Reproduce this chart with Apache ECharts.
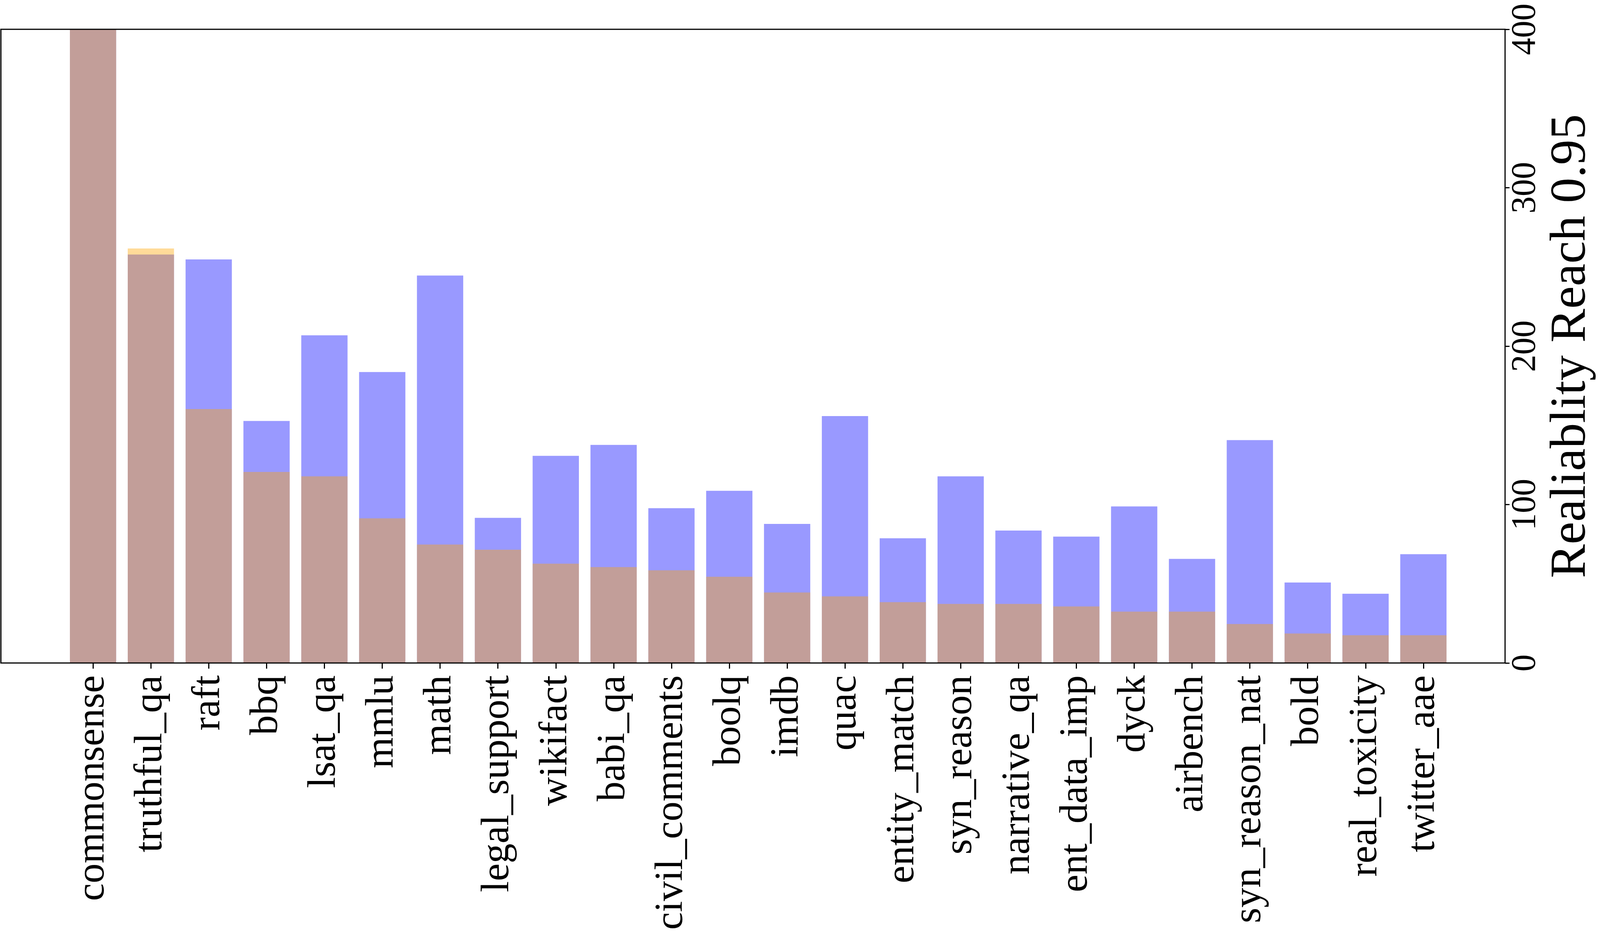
<!DOCTYPE html>
<html>
<head>
<meta charset="utf-8">
<script src="https://cdn.jsdelivr.net/npm/echarts@6/dist/echarts.min.js"></script>
<style>
html,body{margin:0;padding:0;background:#fff;overflow:hidden;}
#chart{width:100vw;height:100vh;}
</style>
</head>
<body>
<div id="chart"></div>
<script>
const categories = ['commonsense','truthful_qa','raft','bbq','lsat_qa','mmlu','math','legal_support','wikifact','babi_qa','civil_comments','boolq','imdb','quac','entity_match','syn_reason','narrative_qa','ent_data_imp','dyck','airbench','syn_reason_nat','bold','real_toxicity','twitter_aae'];
const blueValues = [400, 257.8, 254.7, 152.7, 206.8, 183.6, 244.5, 91.5, 130.7, 137.6, 97.6, 108.6, 87.7, 155.8, 78.6, 117.7, 83.5, 79.7, 98.7, 65.6, 140.6, 50.7, 43.6, 68.6];
const orangeValues = [400, 261.6, 160.2, 120.5, 117.7, 91.2, 74.7, 71.4, 62.6, 60.4, 58.4, 54.3, 44.4, 41.9, 38.3, 37.2, 37.2, 35.6, 32.3, 32.3, 24.5, 18.5, 17.4, 17.4];
const yMin = 0, yMax = 400, yInterval = 100;
const yTitle = 'Realiablity Reach 0.95';

(function () {
  const FONT = 'Liberation Serif';
  const el = document.getElementById('chart');
  const chart = echarts.init(el, null, {renderer: 'canvas'});
  const W = chart.getWidth(), H = chart.getHeight();
  // layout designed for a 5383 x 2383 canvas, scaled to the actual window
  const sx = W / 5383, sy = H / 2383;
  const frameLeft = 3 * sx, frameRight = 280 * sx, gTop = 75 * sy, gBottom = 686 * sy;
  const bandLeft = 215.7 * sx, bandRight = 496.9 * sx;
  const xLabelFont = 102 * sy;
  const yLabelFont = 88 * sy;
  const titleFont = 130 * sy;
  const axisX = W - frameRight;
  const titleCenter = W - 0.56 * titleFont - 4;
  const nameGap = titleCenter - axisX - titleFont / 2;

  const option = {
    animation: false,
    backgroundColor: '#fff',
    grid: [
      {left: bandLeft, right: bandRight, top: gTop, bottom: gBottom, containLabel: false},
      {left: frameLeft, right: frameRight, top: gTop, bottom: gBottom, containLabel: false, show: true, borderColor: '#000', borderWidth: 3, backgroundColor: 'transparent', z: 10}
    ],
    xAxis: [
      {
        type: 'category', gridIndex: 0, data: categories,
        axisLine: {show: false, onZero: false},
        axisTick: {show: true, alignWithLabel: true, length: 15 * sy, lineStyle: {color: '#000', width: 3}},
        axisLabel: {interval: 0, rotate: 90, margin: 32 * sy, color: '#000', fontFamily: FONT, fontSize: xLabelFont},
        splitLine: {show: false}
      },
      {type: 'value', gridIndex: 1, min: 0, max: 1, show: false, axisLine: {onZero: false}}
    ],
    yAxis: [
      {type: 'value', gridIndex: 0, min: yMin, max: yMax, interval: yInterval, show: false, axisLine: {onZero: false}},
      {
        type: 'value', gridIndex: 1, position: 'right', min: yMin, max: yMax, interval: yInterval,
        axisLine: {show: false, onZero: false},
        axisTick: {show: true, inside: false, length: 15 * sx, lineStyle: {color: '#000', width: 3}},
        axisLabel: {rotate: 90, margin: 12 * sx, color: '#000', fontFamily: FONT, fontSize: yLabelFont},
        splitLine: {show: false},
        name: yTitle, nameLocation: 'middle', nameRotate: 90, nameGap: nameGap,
        nameTextStyle: {color: '#000', fontFamily: FONT, fontSize: titleFont}
      }
    ],
    series: [
      {type: 'bar', xAxisIndex: 0, yAxisIndex: 0, data: blueValues, barWidth: '80%', barGap: '-100%',
       itemStyle: {color: 'rgba(0,0,255,0.4)'}, clip: true},
      {type: 'bar', xAxisIndex: 0, yAxisIndex: 0, data: orangeValues, barWidth: '80%', barGap: '-100%',
       itemStyle: {color: 'rgba(255,165,0,0.4)'}, clip: true}
    ]
  };
  chart.setOption(option);
})();
</script>
</body>
</html>
